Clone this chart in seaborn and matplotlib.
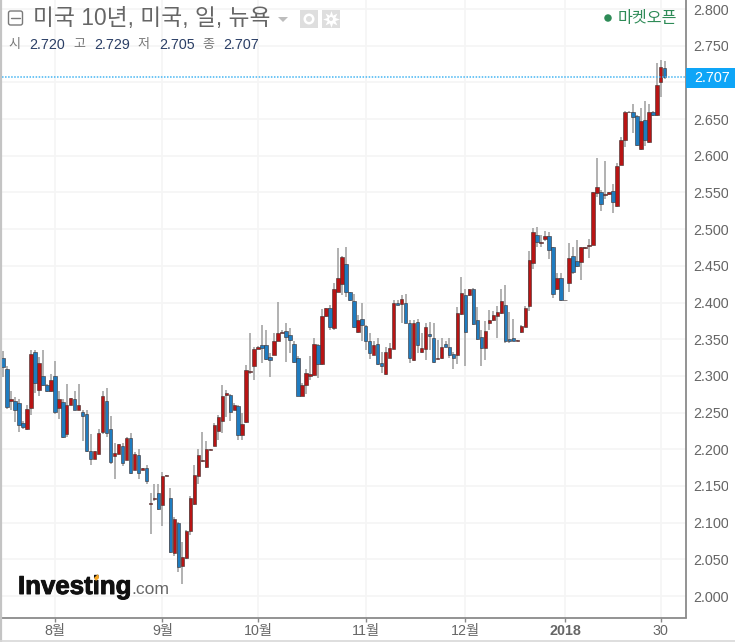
import numpy as np
import pandas as pd
import matplotlib
matplotlib.use("Agg")
import matplotlib.pyplot as plt
import matplotlib.patheffects as pe
from matplotlib.patches import FancyBboxPatch, Rectangle, Polygon, Ellipse
from matplotlib.lines import Line2D
import seaborn as sns

opens = [2.325,2.310,2.266,2.266,2.263,2.236,2.227,2.256,2.333,2.281,
         2.300,2.288,2.279,2.300,2.256,2.265,2.221,2.261,2.268,2.254,
         2.251,2.248,2.198,2.187,2.194,2.224,2.266,2.227,2.191,2.194,
         2.205,2.186,2.215,2.172,2.192,2.172,2.175,2.126,2.132,2.141,
         2.124,2.164,2.133,2.058,2.100,2.041,2.052,2.088,2.125,2.163,
         2.184,2.176,2.199,2.205,2.225,2.239,2.274,2.274,2.254,2.259,
         2.220,2.237,2.305,2.313,2.337,2.342,2.342,2.326,2.329,2.348,
         2.359,2.361,2.356,2.344,2.324,2.273,2.287,2.300,2.301,2.342,
         2.316,2.381,2.393,2.365,2.415,2.425,2.452,2.414,2.402,2.360,
         2.378,2.368,2.347,2.329,2.344,2.318,2.302,2.325,2.337,2.400,
         2.398,2.400,2.372,2.321,2.373,2.332,2.337,2.357,2.351,2.323,
         2.324,2.344,2.340,2.330,2.328,2.384,2.410,2.410,2.419,2.376,
         2.353,2.338,2.372,2.376,2.381,2.386,2.397,2.350,2.351,2.348,
         2.360,2.367,2.395,2.454,2.492,2.481,2.486,2.490,2.475,2.418,
         2.433,2.403,2.426,2.463,2.456,2.455,2.474,2.477,2.479,2.549,
         2.551,2.546,2.548,2.552,2.531,2.588,2.621,2.659,2.659,2.654,
         2.609,2.649,2.619,2.660,2.655,2.701,2.720]
closes = [2.312,2.258,2.268,2.254,2.233,2.230,2.255,2.330,2.290,2.318,
          2.288,2.279,2.294,2.251,2.268,2.217,2.261,2.270,2.254,2.260,
          2.245,2.197,2.187,2.197,2.222,2.272,2.222,2.182,2.195,2.207,
          2.181,2.216,2.167,2.194,2.167,2.174,2.157,2.127,2.134,2.118,
          2.164,2.165,2.060,2.105,2.040,2.053,2.089,2.133,2.165,2.192,
          2.185,2.200,2.200,2.233,2.244,2.273,2.276,2.251,2.260,2.220,
          2.235,2.308,2.306,2.337,2.340,2.338,2.323,2.321,2.347,2.359,
          2.360,2.353,2.349,2.319,2.273,2.288,2.304,2.302,2.344,2.316,
          2.382,2.392,2.367,2.418,2.434,2.462,2.414,2.403,2.367,2.376,
          2.370,2.347,2.331,2.342,2.316,2.314,2.332,2.338,2.400,2.396,
          2.405,2.372,2.324,2.372,2.342,2.338,2.366,2.355,2.319,2.325,
          2.339,2.340,2.329,2.324,2.386,2.413,2.360,2.418,2.371,2.350,
          2.338,2.361,2.376,2.383,2.387,2.402,2.347,2.347,2.348,2.349,
          2.368,2.393,2.458,2.496,2.482,2.483,2.490,2.471,2.411,2.433,
          2.403,2.404,2.460,2.442,2.450,2.475,2.475,2.479,2.550,2.557,
          2.534,2.548,2.550,2.537,2.586,2.621,2.660,2.660,2.653,2.614,
          2.647,2.621,2.659,2.655,2.696,2.721,2.707]
highs = [2.334,2.314,2.280,2.271,2.269,2.238,2.260,2.335,2.335,2.326,
         2.335,2.289,2.303,2.320,2.280,2.269,2.289,2.270,2.280,2.289,
         2.254,2.253,2.221,2.197,2.227,2.280,2.284,2.245,2.209,2.207,
         2.208,2.217,2.222,2.196,2.201,2.175,2.178,2.141,2.153,2.153,
         2.169,2.165,2.147,2.108,2.101,2.073,2.090,2.136,2.179,2.201,
         2.223,2.211,2.200,2.236,2.247,2.288,2.281,2.275,2.263,2.260,
         2.249,2.315,2.358,2.339,2.341,2.370,2.363,2.331,2.358,2.401,
         2.363,2.372,2.365,2.347,2.327,2.290,2.310,2.327,2.351,2.343,
         2.391,2.393,2.396,2.426,2.474,2.463,2.475,2.415,2.412,2.383,
         2.399,2.369,2.359,2.347,2.352,2.333,2.339,2.345,2.403,2.403,
         2.410,2.412,2.376,2.376,2.377,2.358,2.372,2.373,2.372,2.349,
         2.351,2.347,2.351,2.333,2.394,2.435,2.419,2.419,2.420,2.394,
         2.362,2.375,2.390,2.389,2.395,2.419,2.424,2.387,2.378,2.349,
         2.369,2.395,2.470,2.501,2.503,2.492,2.497,2.496,2.476,2.440,
         2.440,2.404,2.481,2.475,2.485,2.476,2.476,2.487,2.551,2.597,
         2.553,2.593,2.551,2.562,2.590,2.625,2.661,2.661,2.671,2.655,
         2.665,2.675,2.671,2.661,2.726,2.731,2.729]
lows = [2.298,2.255,2.254,2.237,2.223,2.228,2.226,2.247,2.276,2.273,
        2.286,2.278,2.278,2.248,2.241,2.216,2.217,2.261,2.253,2.253,
        2.211,2.196,2.179,2.187,2.194,2.221,2.217,2.180,2.160,2.194,
        2.177,2.185,2.166,2.172,2.160,2.172,2.152,2.085,2.130,2.117,
        2.096,2.164,2.059,2.054,2.033,2.016,2.051,2.083,2.124,2.152,
        2.183,2.175,2.199,2.204,2.212,2.222,2.244,2.239,2.253,2.213,
        2.213,2.236,2.303,2.294,2.336,2.317,2.322,2.298,2.328,2.347,
        2.358,2.319,2.331,2.317,2.272,2.272,2.275,2.294,2.300,2.297,
        2.315,2.380,2.362,2.363,2.414,2.410,2.408,2.402,2.365,2.359,
        2.347,2.335,2.323,2.328,2.315,2.304,2.301,2.324,2.336,2.396,
        2.372,2.372,2.318,2.320,2.331,2.331,2.322,2.335,2.318,2.323,
        2.323,2.339,2.324,2.309,2.316,2.383,2.314,2.409,2.370,2.349,
        2.314,2.321,2.362,2.375,2.351,2.385,2.345,2.345,2.347,2.348,
        2.358,2.366,2.389,2.445,2.476,2.475,2.484,2.459,2.406,2.417,
        2.402,2.403,2.415,2.439,2.449,2.431,2.473,2.460,2.478,2.544,
        2.525,2.541,2.547,2.522,2.530,2.587,2.612,2.658,2.631,2.613,
        2.608,2.613,2.618,2.654,2.654,2.680,2.705]

price_ticks = [2.00,2.05,2.10,2.15,2.20,2.25,2.30,2.35,2.40,2.45,
               2.50,2.55,2.60,2.65,2.70,2.75,2.80]
month_ticks = [13, 40, 64, 91, 116, 141, 165]
month_labels = ["8월", "9월", "10월", "11월", "12월", "2018", "30"]
last_price = 2.707
title_text = "미국 10년, 미국, 일, 뉴욕"
ohlc_pairs = [("시", "2.720"), ("고", "2.729"), ("저", "2.705"), ("종", "2.707")]

W, H = 735, 642
RED, BLUE = "#b81414", "#1f7cc0"
GREY_TEXT = "#666666"
GREEN = "#2e8b57"
FONT = ["Liberation Sans", "Noto Sans CJK KR", "DejaVu Sans"]

sns.set_theme(style="white", rc={"axes.unicode_minus": False})
plt.rcParams["font.family"] = FONT

df = pd.DataFrame({"open": opens, "high": highs, "low": lows, "close": closes})
df["session"] = np.arange(len(df))
df["rising"] = df["close"] >= df["open"]
df["base"] = df[["open", "close"]].min(axis=1)
df["span"] = (df["close"] - df["open"]).abs()

fig = plt.figure(figsize=(W / 100, H / 100), dpi=100, facecolor="white")
ax = fig.add_axes([2 / W, (H - 617.5) / H, 683.5 / W, 617.5 / H])


def at(x, y):
    """Figure fraction for a position given from the top-left corner in pixels."""
    return x / W, 1 - y / H


def dot(x, y, size, colour, zorder=7):
    """Round marker of the given pixel diameter, placed in pixels."""
    fx, fy = at(x, y)
    fig.add_artist(Ellipse((fx, fy), size / W, size / H, transform=fig.transFigure,
                           facecolor=colour, edgecolor="none", zorder=zorder))


ax.set_xlim(-0.25, 171.2)
ax.set_ylim(1.9707, 2.8123)
ax.set_axisbelow(True)
ax.grid(True, color="#f5f5f5", lw=1.2)

# Candles: grey wicks under outlined bodies
ax.vlines(df["session"], df["low"], df["high"], color="#a8a8a8", lw=1.25, zorder=2)
for rising, colour in ((True, RED), (False, BLUE)):
    part = df[df["rising"] == rising]
    ax.bar(part["session"], part["span"], bottom=part["base"], width=0.86,
           color=colour, edgecolor="#3a2c2c", linewidth=0.4, zorder=3)

# Last-price marker
ax.axhline(last_price, color="#45b5f2", lw=1.1, ls=(0, (1, 1)), zorder=4)

ax.yaxis.tick_right()
ax.set_yticks(price_ticks)
# The 2.700 label would sit under the last-price flag
ax.set_yticklabels(["" if abs(v - 2.70) < 1e-9 else f"{v:.3f}" for v in price_ticks])
ax.set_xticks(month_ticks)
ax.set_xticklabels(month_labels)
ax.tick_params(axis="y", length=3, width=1, color="#888888", labelcolor=GREY_TEXT,
               labelsize=10.4, pad=2.6, right=True)
ax.tick_params(axis="x", length=3, width=1, color="#888888", labelcolor=GREY_TEXT,
               labelsize=10.3, pad=2, bottom=True)
for lab in ax.get_xticklabels():
    if lab.get_text() == "2018":
        lab.set_fontweight("bold")
sns.despine(ax=ax, top=True, left=True, right=False, bottom=False)
for side in ("right", "bottom"):
    ax.spines[side].set_color("#8a8a8a")
    ax.spines[side].set_linewidth(1.3)

# The price scale is cut off at its column edge
clip_box = matplotlib.transforms.Bbox([[0, 0], [727.5, H]])
for lab in ax.get_yticklabels():
    lab.set_clip_box(clip_box)
    lab.set_clip_on(True)

# Outer frame of the panel
fig.add_artist(Line2D([0.6 / W, 0.6 / W], [0, 1], color="#c4c4c4", lw=1.6))
fig.add_artist(Line2D([0, 1], [1 - 641 / H, 1 - 641 / H], color="#d8d8d8", lw=1.2))

# Price flag on the scale
x0, y0 = at(686, 88)
fig.add_artist(Rectangle((x0, y0), 49 / W, 20 / H, transform=fig.transFigure,
                         facecolor="#0ea5f7", edgecolor="none", zorder=5))
fig.text(*at(694, 78), "2.707", color="white", fontsize=10.4, va="center", ha="left", zorder=6)

# Header
cx, cy = at(8.5, 25)
fig.add_artist(FancyBboxPatch((cx, cy), 14 / W, 14 / H, transform=fig.transFigure,
                              boxstyle="round,pad=0,rounding_size=0.003",
                              facecolor="none", edgecolor="#7a7a7a", lw=1.0))
fig.add_artist(Line2D([at(11, 0)[0], at(20, 0)[0]], [at(0, 18)[1]] * 2, color="#7a7a7a", lw=1.0))
fig.text(*at(33, 18), title_text, color="#666666", fontsize=16.4, va="center", ha="left")
fig.add_artist(Polygon([at(278, 17), at(288, 17), at(283, 22)], closed=True,
                       transform=fig.transFigure, facecolor="#bdbdbd", edgecolor="none"))

# Eye and gear buttons
for left in (300, 322):
    bx, by = at(left, 28)
    fig.add_artist(Rectangle((bx, by), 17.5 / W, 18 / H, transform=fig.transFigure,
                             facecolor="#dedede", edgecolor="none"))
dot(309, 19, 11, "white")
dot(309, 19, 6, "#dedede", zorder=8)
fig.add_artist(Line2D([at(331, 0)[0]], [at(0, 19)[1]], marker=(8, 1, 0), ms=12,
                      color="white", mew=0, ls="none", zorder=7))
dot(331, 19, 4, "#dedede", zorder=8)

# Open / high / low / close line
cursor = 8
for name, value in ohlc_pairs:
    fig.text(*at(cursor, 45), name, color="#777777", fontsize=9.4, va="center", ha="left")
    fig.text(*at(cursor + 21, 45), value, color="#2b3f66", fontsize=10.3, va="center", ha="left")
    cursor += 64.9

# Market status
dot(608, 18, 7.5, GREEN)
fig.text(*at(618, 18), "마켓오픈", color=GREEN, fontsize=11.6, va="center", ha="left")

# Wordmark
wordmark = fig.text(*at(18, 587), "Investing", color="#111111", fontsize=18.6, fontweight="bold",
                    va="center", ha="left", family="Liberation Sans", zorder=6)
wordmark.set_path_effects([pe.withStroke(linewidth=0.7, foreground="#111111")])
fig.text(*at(131.5, 590), ".com", color="#666666", fontsize=12.6, va="center", ha="left",
         family="Liberation Sans", zorder=6)
fig.add_artist(Polygon([at(94, 578), at(98, 574), at(99, 578), at(96, 581)], closed=True,
                       transform=fig.transFigure, facecolor="#f6a623", edgecolor="none", zorder=7))

fig.savefig("out.png", dpi=100, facecolor="white")
